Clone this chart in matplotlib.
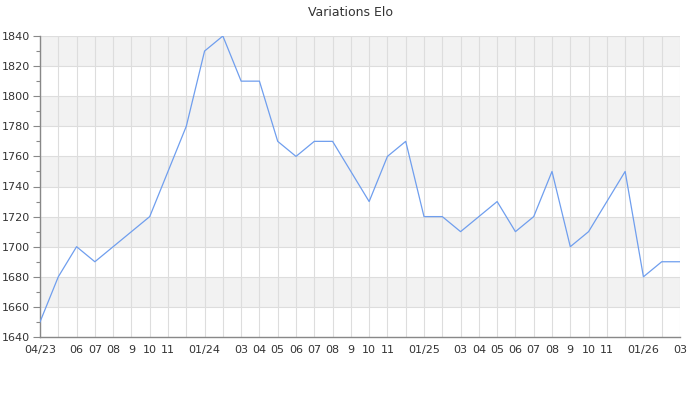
import matplotlib
matplotlib.use("Agg")
import matplotlib.pyplot as plt
import numpy as np

months = ["04/23", "05", "06", "07", "08", "9", "10", "11", "12",
          "01/24", "02", "03", "04", "05", "06", "07", "08", "9", "10", "11", "12",
          "01/25", "02", "03", "04", "05", "06", "07", "08", "9", "10", "11", "12",
          "01/26", "02", "03"]
shown_labels = ["04/23", "", "06", "07", "08", "9", "10", "11", "",
                "01/24", "", "03", "04", "05", "06", "07", "08", "9", "10", "11", "",
                "01/25", "", "03", "04", "05", "06", "07", "08", "9", "10", "11", "",
                "01/26", "", "03"]
elo = [1650, 1680, 1700, 1690, 1700, 1710, 1720, 1750, 1780,
       1830, 1840, 1810, 1810, 1770, 1760, 1770, 1770, 1750, 1730, 1760, 1770,
       1720, 1720, 1710, 1720, 1730, 1710, 1720, 1750, 1700, 1710, 1730, 1750,
       1680, 1690, 1690]
title = "Variations Elo"

fig = plt.figure(figsize=(7, 4), dpi=100)
ax = fig.add_axes([40/700, 1-337/400, 640/700, (337-36)/400])

x = np.arange(len(months))
ymin, ymax = 1640, 1840

# alternating bands
for i, lo in enumerate(range(ymin, ymax, 20)):
    if i % 2 == 1:
        ax.axhspan(lo, lo + 20, color="#f2f2f2", zorder=0, lw=0)

for yv in range(ymin, ymax + 1, 20):
    ax.axhline(yv, color="#dddddd", lw=0.8, zorder=1)
for xv in x:
    ax.axvline(xv, color="#dddddd", lw=0.8, zorder=1)

ax.plot(x, elo, color="#6f9eee", lw=0.9, zorder=3)

ax.set_xlim(0, len(months) - 1)
ax.set_ylim(ymin, ymax)
ax.set_xticks(x)
ax.set_xticklabels(shown_labels)
ax.set_yticks(range(ymin, ymax + 1, 20))
ax.set_yticks(range(ymin + 10, ymax, 20), minor=True)

ax.tick_params(axis="x", length=0, pad=6, labelsize=8, labelcolor="#333333")
ax.tick_params(axis="y", which="major", length=5, width=0.8, color="#888888",
               labelsize=8, labelcolor="#333333", pad=2)
ax.tick_params(axis="y", which="minor", length=3, width=0.8, color="#888888")

for s in ["top", "right"]:
    ax.spines[s].set_visible(False)
for s in ["left", "bottom"]:
    ax.spines[s].set_color("#888888")
    ax.spines[s].set_linewidth(1.0)

fig.text(0.5, 1 - 12/400, title, ha="center", va="center", fontsize=9, color="#333333")

fig.savefig("out.png", dpi=100)
